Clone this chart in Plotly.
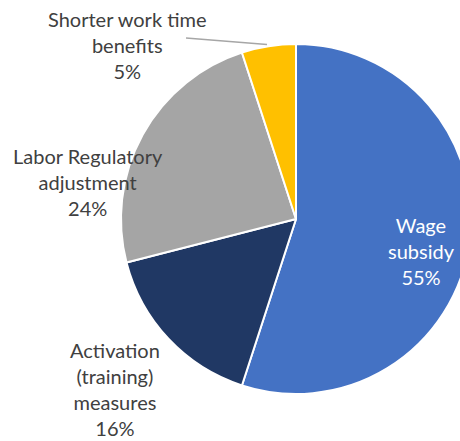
import plotly.graph_objects as go

categories = ["Wage subsidy", "Activation (training) measures", "Labor Regulatory adjustment", "Shorter work time benefits"]
label_lines = ["Wage<br>subsidy", "Activation<br>(training)<br>measures", "Labor Regulatory<br>adjustment", "Shorter work time<br>benefits"]
values = [55, 16, 24, 5]
colors = ["#4472C4", "#203864", "#A5A5A5", "#FFC000"]
label_colors = ["#FFFFFF", "#404040", "#404040", "#404040"]
# label centre positions in pixels (x, y from top)
label_pos = [(421, 251), (115, 389), (88, 182), (127, 45)]

W, H = 500, 441
cx, cy, r = 296, 219, 175

fig = go.Figure(go.Pie(
    labels=categories,
    values=values,
    sort=False,
    direction="clockwise",
    rotation=0,
    textinfo="none",
    hoverinfo="label+percent",
    marker=dict(colors=colors, line=dict(color="#FFFFFF", width=2)),
    domain=dict(x=[(cx - r) / W, (cx + r) / W], y=[1 - (cy + r) / H, 1 - (cy - r) / H]),
    showlegend=False,
))

total = sum(values)
for lab, v, col, (px, py) in zip(label_lines, values, label_colors, label_pos):
    fig.add_annotation(
        x=px / W, y=1 - py / H, xref="paper", yref="paper",
        text=f"{lab}<br>{round(100 * v / total)}%",
        showarrow=False, xanchor="center", yanchor="middle",
        font=dict(family="Lato", size=20, color=col), align="center",
    )

# leader line for the small slice label
fig.add_shape(type="line", xref="paper", yref="paper",
              x0=186 / W, y0=1 - 38 / H, x1=267 / W, y1=1 - 44.5 / H,
              line=dict(color="#A6A6A6", width=1.5))

fig.update_layout(
    width=W, height=H,
    margin=dict(l=0, r=0, t=0, b=0),
    paper_bgcolor="white", plot_bgcolor="white",
)

fig.write_html("out.html", config={"displayModeBar": False},
               post_script="document.body.style.margin='0';document.body.style.overflow='hidden';")
